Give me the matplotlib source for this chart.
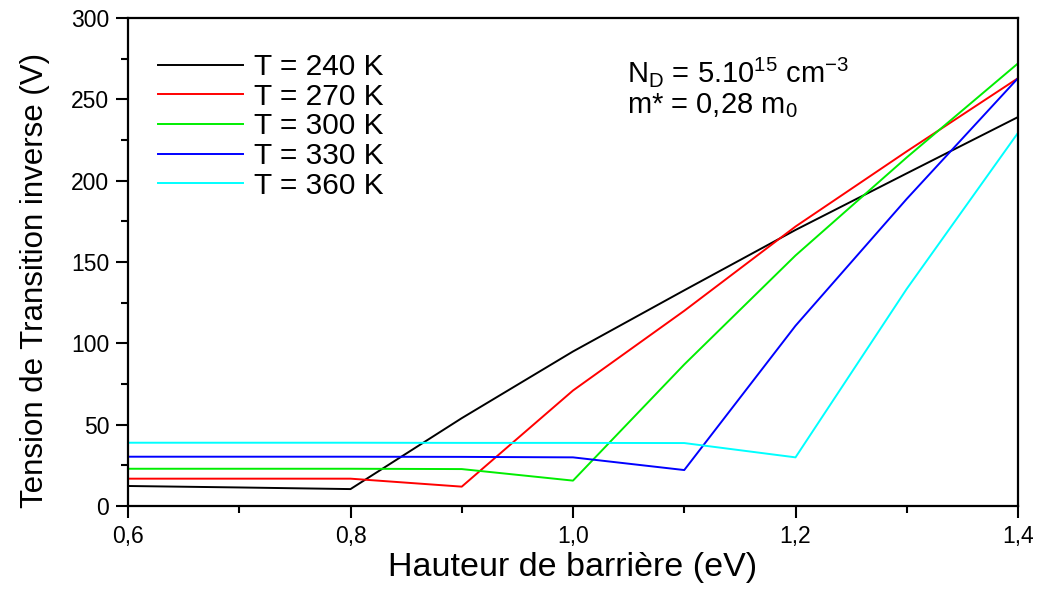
import matplotlib
matplotlib.use("Agg")
import matplotlib.pyplot as plt
from matplotlib.ticker import MultipleLocator, FuncFormatter

plt.rcParams['font.family'] = ['Liberation Sans', 'DejaVu Sans']
plt.rcParams['mathtext.default'] = 'regular'

# Barrier height (eV)
barrier = [0.6, 0.7, 0.8, 0.9, 1.0, 1.1, 1.2, 1.3, 1.4]

# Reverse transition voltage (V) for each temperature
v_240 = [12.3, 11.4, 10.4, 54.0, 95.0, 132.6, 169.7, 204.5, 239.1]
v_270 = [16.8, 16.8, 16.8, 11.9, 71.0, 120.0, 171.8, 218.0, 263.0]
v_300 = [22.9, 22.9, 22.9, 22.7, 15.6, 87.0, 154.0, 214.3, 272.1]
v_330 = [30.3, 30.3, 30.3, 30.2, 29.9, 22.1, 110.8, 188.8, 263.0]
v_360 = [38.9, 38.9, 38.9, 38.8, 38.8, 38.7, 29.9, 133.5, 229.4]

labels = ['T = 240 K', 'T = 270 K', 'T = 300 K', 'T = 330 K', 'T = 360 K']
colors = ['#000000', '#ff0000', '#00ee00', '#0000ff', '#00ffff']
series = [v_240, v_270, v_300, v_330, v_360]

fig = plt.figure(figsize=(10.38, 5.89), dpi=100)
ax = fig.add_axes([128 / 1038, 1 - 506 / 589, 890 / 1038, 488 / 589])

for vals, lab, col in zip(series, labels, colors):
    ax.plot(barrier, vals, color=col, lw=1.4, label=lab)

ax.set_xlim(0.6, 1.4)
ax.set_ylim(0, 300)

ax.xaxis.set_major_locator(MultipleLocator(0.2))
ax.xaxis.set_minor_locator(MultipleLocator(0.1))
ax.yaxis.set_major_locator(MultipleLocator(50))
ax.yaxis.set_minor_locator(MultipleLocator(25))
ax.xaxis.set_major_formatter(FuncFormatter(lambda v, p: f"{v:.1f}".replace('.', ',')))

for s in ax.spines.values():
    s.set_linewidth(1.6)

ax.tick_params(which='major', direction='out', length=8.5, width=1.5, labelsize=16.5, pad=5)
ax.tick_params(which='minor', direction='out', length=5, width=1.5)
ax.tick_params(top=False, right=False, which='both')

ax.set_xlabel('Hauteur de barrière (eV)', fontsize=24.5)
ax.set_ylabel('Tension de Transition inverse (V)', fontsize=22.5)
ax.xaxis.set_label_coords(0.5, -0.095)
ax.yaxis.set_label_coords(-0.088, 0.463)

leg = ax.legend(loc='upper left', bbox_to_anchor=(0.0337, 0.928), frameon=False,
                fontsize=21.5, handlelength=2.85, handletextpad=0.35,
                labelspacing=0.055, borderpad=0, borderaxespad=0)

ax.text(0.561, 0.869, r'N$_{D}$ = 5.10$^{15}$ cm$^{-3}$', transform=ax.transAxes,
        fontsize=21, va='baseline', ha='left')
ax.text(0.561, 0.805, r'm* = 0,28 m$_{0}$', transform=ax.transAxes,
        fontsize=21, va='baseline', ha='left')

fig.savefig('out.png', dpi=100)
